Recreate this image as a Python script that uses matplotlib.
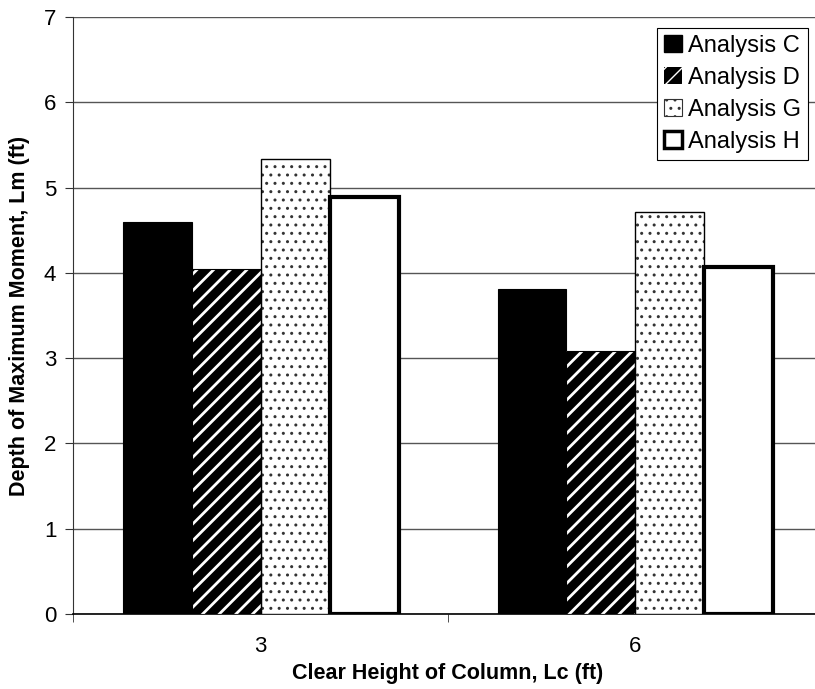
import numpy as np
import matplotlib.pyplot as plt
from matplotlib.patches import Patch

# Clear height of column (ft) and depth of max moment per analysis
heights = ['3', '6']
analysis_c = [4.60, 3.81]
analysis_d = [4.05, 3.08]
analysis_g = [5.33, 4.71]
analysis_h = [4.89, 4.07]
series_names = ['Analysis C', 'Analysis D', 'Analysis G', 'Analysis H']

plt.rcParams['font.family'] = ['Liberation Sans', 'DejaVu Sans']

fig = plt.figure(figsize=(8.15, 6.89), dpi=100)
ax = fig.add_axes([0.0896, 0.1089, 0.9202, 0.8665])

x = np.arange(len(heights))
w = 0.184
offs = np.array([-1.5, -0.5, 0.5, 1.5]) * w

# C: solid black
ax.bar(x + offs[0], analysis_c, w, color='black', edgecolor='black', linewidth=0.8, zorder=3)

# D: black with white diagonal stripes
with plt.rc_context({'hatch.linewidth': 2.0}):
    ax.bar(x + offs[1], analysis_d, w, color='black', edgecolor='white', hatch='//',
           linewidth=0, zorder=3)
ax.bar(x + offs[1], analysis_d, w, fill=False, edgecolor='black', linewidth=0.8, zorder=4)

# G: white with small dots
with plt.rc_context({'hatch.linewidth': 1.0}):
    ax.bar(x + offs[2], analysis_g, w, color='white', edgecolor='#333333', hatch='..',
           linewidth=0, zorder=3)
ax.bar(x + offs[2], analysis_g, w, fill=False, edgecolor='black', linewidth=1.0, zorder=4)

# H: white with thick outline
ax.bar(x + offs[3], analysis_h, w, color='white', edgecolor='black', linewidth=3.0, zorder=3)

ax.set_xlim(-0.5, 1.5)
ax.set_ylim(0, 7)
ax.set_yticks(range(0, 8))
ax.yaxis.grid(True, color='#555555', linewidth=1.0)
ax.set_axisbelow(True)

ax.set_xticks(x)
ax.set_xticklabels(heights)
ax.set_xticks([-0.5, 0.5, 1.5], minor=True)
ax.tick_params(axis='x', which='major', length=0, pad=16, labelsize=16)
ax.tick_params(axis='x', which='minor', length=6, direction='out', color='#333333')
ax.tick_params(axis='y', length=6, direction='out', labelsize=16, pad=6, color='#333333')

for s in ['top', 'right']:
    ax.spines[s].set_visible(False)
ax.spines['left'].set_color('#333333')
ax.spines['bottom'].set_color('black')
ax.spines['bottom'].set_linewidth(1.2)

ax.set_xlabel('Clear Height of Column, Lc (ft)', fontsize=15.5, fontweight='bold', labelpad=4)
ax.set_ylabel('Depth of Maximum Moment, Lm (ft)', fontsize=15.5, fontweight='bold', labelpad=10)

with plt.rc_context({'hatch.linewidth': 2.5}):
    h_d = Patch(facecolor='black', edgecolor='white', hatch='//', linewidth=0)
with plt.rc_context({'hatch.linewidth': 1.0}):
    h_g = Patch(facecolor='white', edgecolor='#333333', hatch='..', linewidth=0.8)
handles = [
    Patch(facecolor='black', edgecolor='black'),
    h_d,
    h_g,
    Patch(facecolor='white', edgecolor='black', linewidth=2.5),
]
leg = ax.legend(handles, series_names, loc='upper right', bbox_to_anchor=(0.98, 0.982),
                borderaxespad=0, fancybox=False, framealpha=1, edgecolor='black',
                handlelength=0.75, handleheight=0.75, handletextpad=0.25,
                labelspacing=0.42, borderpad=0.3,
                prop={'family': ['Liberation Sans', 'DejaVu Sans'], 'size': 17})
leg.get_frame().set_linewidth(0.8)

fig.savefig('out.png', dpi=100)
